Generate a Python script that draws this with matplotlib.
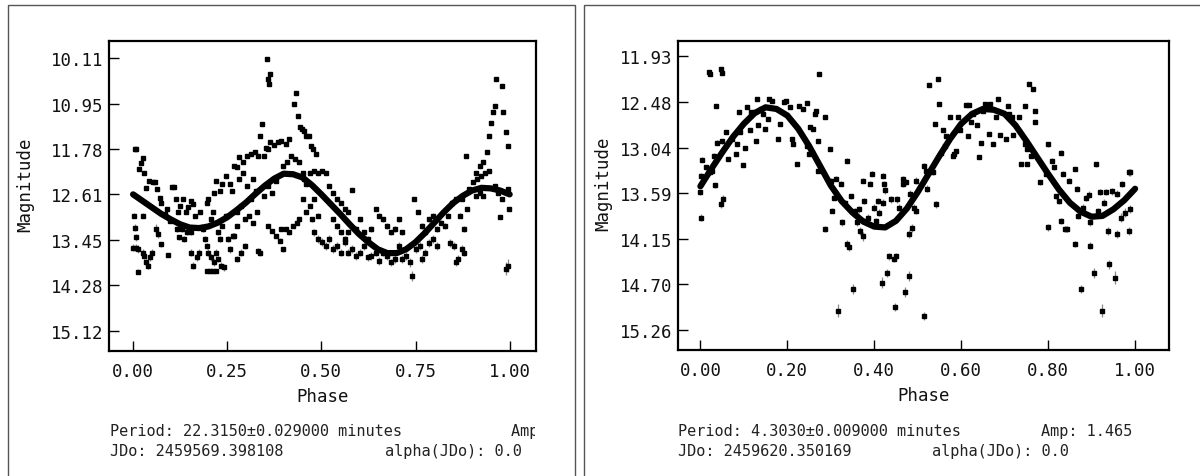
import numpy as np
import matplotlib
matplotlib.use("Agg")
import matplotlib.pyplot as plt
from matplotlib.patches import Rectangle

W, H = 1200, 477
MONO = "DejaVu Sans Mono"

fit_phase = [0.000, 0.025, 0.050, 0.075, 0.100, 0.125, 0.150, 0.175, 0.200, 0.225,
             0.250, 0.275, 0.300, 0.325, 0.350, 0.375, 0.400, 0.425, 0.450, 0.475,
             0.500, 0.525, 0.550, 0.575, 0.600, 0.625, 0.650, 0.675, 0.700, 0.725,
             0.750, 0.775, 0.800, 0.825, 0.850, 0.875, 0.900, 0.925, 0.950, 0.975, 1.000]

# ---------------- left object ----------------
left_fit_mag = [12.61, 12.73, 12.85, 12.97, 13.07, 13.16, 13.22, 13.23, 13.20, 13.13,
                13.03, 12.90, 12.76, 12.60, 12.45, 12.32, 12.23, 12.24, 12.30, 12.44,
                12.61, 12.79, 12.97, 13.16, 13.34, 13.49, 13.62, 13.69, 13.69, 13.62,
                13.49, 13.32, 13.13, 12.94, 12.77, 12.64, 12.54, 12.49, 12.50, 12.54, 12.61]

# (phase, magnitude, error)
left_obs = [
    (0.005, 11.77, 0.02), (0.009, 11.77, 0.02), (0.015, 12.15, 0.02), (0.020, 12.03, 0.02),
    (0.025, 11.94, 0.02), (0.028, 12.21, 0.02), (0.002, 13.00, 0.05), (0.004, 13.22, 0.06),
    (0.009, 13.40, 0.07), (0.000, 13.59, 0.07), (0.007, 13.59, 0.07), (0.014, 13.62, 0.07),
    (0.012, 14.03, 0.05), (0.025, 13.68, 0.06), (0.030, 13.74, 0.06), (0.035, 13.86, 0.06),
    (0.040, 13.92, 0.06), (0.045, 13.77, 0.06), (0.050, 13.68, 0.06), (0.025, 13.00, 0.04),
    (0.033, 12.50, 0.02), (0.043, 12.36, 0.02), (0.053, 12.39, 0.02), (0.058, 12.38, 0.02),
    (0.063, 12.51, 0.02), (0.071, 12.67, 0.02), (0.075, 12.76, 0.02), (0.061, 13.24, 0.08),
    (0.067, 13.34, 0.08), (0.073, 13.53, 0.05), (0.094, 13.73, 0.04), (0.084, 12.97, 0.03),
    (0.089, 12.88, 0.03), (0.099, 13.10, 0.03), (0.104, 12.47, 0.02), (0.109, 12.47, 0.02),
    (0.114, 12.70, 0.02), (0.119, 12.94, 0.03), (0.124, 12.82, 0.03), (0.116, 13.25, 0.05),
    (0.122, 13.40, 0.05), (0.129, 13.25, 0.05), (0.134, 13.43, 0.05), (0.143, 13.31, 0.05),
    (0.132, 12.70, 0.03), (0.140, 12.94, 0.03), (0.145, 12.85, 0.03), (0.153, 12.73, 0.03),
    (0.160, 12.79, 0.03), (0.155, 13.68, 0.06), (0.160, 13.92, 0.06), (0.170, 13.77, 0.06),
    (0.175, 13.68, 0.06), (0.155, 13.31, 0.05), (0.165, 13.00, 0.03), (0.177, 12.94, 0.03),
    (0.185, 13.25, 0.05), (0.190, 13.43, 0.05), (0.196, 12.76, 0.03), (0.200, 12.70, 0.03),
    (0.206, 13.07, 0.04), (0.211, 12.94, 0.03), (0.216, 12.58, 0.02), (0.221, 12.36, 0.02),
    (0.196, 14.02, 0.03), (0.204, 14.02, 0.03), (0.211, 14.02, 0.03), (0.221, 14.02, 0.03),
    (0.196, 13.56, 0.06), (0.200, 13.68, 0.06), (0.206, 13.77, 0.06), (0.216, 13.86, 0.06),
    (0.221, 13.68, 0.06), (0.226, 13.80, 0.06), (0.234, 13.92, 0.06), (0.241, 13.95, 0.06),
    (0.226, 13.31, 0.05), (0.231, 13.43, 0.05), (0.236, 13.19, 0.04), (0.246, 13.00, 0.04),
    (0.252, 13.43, 0.05), (0.231, 12.55, 0.02), (0.236, 12.42, 0.02), (0.246, 12.27, 0.02),
    (0.257, 12.42, 0.02), (0.262, 12.54, 0.02), (0.269, 12.08, 0.02), (0.277, 12.11, 0.02),
    (0.257, 13.62, 0.06), (0.267, 13.37, 0.05), (0.277, 13.80, 0.06), (0.287, 13.68, 0.06),
    (0.297, 13.56, 0.06), (0.282, 11.93, 0.02), (0.292, 12.02, 0.02), (0.302, 11.90, 0.02),
    (0.313, 11.87, 0.02), (0.323, 11.84, 0.02), (0.333, 11.90, 0.02), (0.282, 12.33, 0.02),
    (0.292, 12.21, 0.02), (0.302, 12.45, 0.02), (0.313, 12.70, 0.02), (0.318, 12.33, 0.02),
    (0.326, 12.54, 0.02), (0.277, 12.94, 0.03), (0.287, 12.82, 0.03), (0.297, 13.07, 0.03),
    (0.308, 13.00, 0.03), (0.318, 13.13, 0.03), (0.328, 12.94, 0.03), (0.265, 13.37, 0.05),
    (0.277, 13.19, 0.04), (0.333, 13.65, 0.06), (0.338, 13.68, 0.06), (0.338, 11.53, 0.02),
    (0.343, 11.32, 0.02), (0.348, 11.90, 0.02), (0.353, 11.75, 0.02), (0.358, 11.78, 0.02),
    (0.355, 10.12, 0.02), (0.358, 10.49, 0.02), (0.363, 10.40, 0.02), (0.361, 10.58, 0.02),
    (0.358, 13.19, 0.04), (0.369, 13.28, 0.04), (0.379, 13.37, 0.04), (0.389, 13.46, 0.05),
    (0.399, 13.62, 0.05), (0.364, 11.65, 0.02), (0.374, 11.71, 0.02), (0.384, 11.65, 0.02),
    (0.394, 11.62, 0.02), (0.405, 11.68, 0.02), (0.415, 11.59, 0.02), (0.358, 12.45, 0.02),
    (0.369, 12.58, 0.02), (0.379, 12.36, 0.02), (0.348, 12.64, 0.02), (0.394, 13.25, 0.04),
    (0.405, 13.25, 0.04), (0.415, 13.31, 0.04), (0.425, 13.19, 0.04), (0.435, 13.13, 0.04),
    (0.440, 13.07, 0.04), (0.399, 12.08, 0.02), (0.409, 12.02, 0.02), (0.420, 11.90, 0.02),
    (0.430, 11.96, 0.02), (0.440, 12.02, 0.02), (0.428, 10.95, 0.02), (0.432, 10.74, 0.02),
    (0.438, 11.16, 0.02), (0.442, 11.38, 0.02), (0.448, 11.41, 0.02), (0.455, 11.44, 0.02),
    (0.460, 11.53, 0.02), (0.468, 11.53, 0.02), (0.472, 11.72, 0.02), (0.479, 11.78, 0.02),
    (0.486, 11.87, 0.02), (0.450, 12.21, 0.02), (0.455, 12.33, 0.02), (0.460, 12.42, 0.02),
    (0.470, 12.21, 0.02), (0.481, 12.18, 0.02), (0.491, 12.21, 0.02), (0.501, 12.18, 0.02),
    (0.511, 12.21, 0.02), (0.450, 12.70, 0.03), (0.460, 12.94, 0.03), (0.470, 12.82, 0.03),
    (0.476, 13.07, 0.04), (0.481, 12.70, 0.03), (0.491, 13.00, 0.04), (0.481, 13.31, 0.06),
    (0.491, 13.43, 0.07), (0.501, 13.49, 0.07), (0.511, 13.56, 0.07), (0.521, 13.43, 0.07),
    (0.521, 12.45, 0.02), (0.532, 12.58, 0.02), (0.542, 12.70, 0.03), (0.552, 12.76, 0.03),
    (0.562, 12.88, 0.03), (0.572, 12.94, 0.03), (0.532, 13.07, 0.05), (0.542, 13.19, 0.05),
    (0.552, 13.31, 0.05), (0.562, 13.43, 0.06), (0.572, 13.31, 0.05), (0.582, 12.53, 0.02),
    (0.532, 13.62, 0.07), (0.542, 13.56, 0.07), (0.552, 13.68, 0.07), (0.562, 13.49, 0.07),
    (0.572, 13.68, 0.07), (0.582, 13.62, 0.07), (0.593, 13.74, 0.07), (0.603, 13.68, 0.07),
    (0.613, 13.56, 0.07), (0.593, 13.25, 0.05), (0.603, 13.07, 0.05), (0.613, 13.31, 0.05),
    (0.623, 13.43, 0.06), (0.633, 13.25, 0.05), (0.644, 12.88, 0.04), (0.654, 13.00, 0.04),
    (0.623, 13.77, 0.07), (0.633, 13.74, 0.07), (0.644, 13.68, 0.07), (0.654, 13.83, 0.07),
    (0.664, 13.68, 0.07), (0.674, 13.74, 0.07), (0.684, 13.86, 0.07), (0.695, 13.80, 0.07),
    (0.664, 13.07, 0.05), (0.674, 13.19, 0.05), (0.684, 13.31, 0.05), (0.695, 13.25, 0.05),
    (0.705, 13.07, 0.05), (0.715, 13.31, 0.05), (0.705, 13.56, 0.07), (0.715, 13.80, 0.07),
    (0.725, 13.74, 0.07), (0.735, 13.86, 0.08), (0.740, 14.11, 0.10), (0.745, 12.70, 0.04),
    (0.756, 12.94, 0.04), (0.766, 13.19, 0.05), (0.776, 13.31, 0.05), (0.786, 13.07, 0.05),
    (0.796, 13.00, 0.05), (0.750, 13.62, 0.07), (0.761, 13.56, 0.07), (0.766, 13.80, 0.07),
    (0.776, 13.68, 0.07), (0.786, 13.50, 0.07), (0.796, 13.43, 0.07), (0.807, 13.56, 0.07),
    (0.807, 13.25, 0.05), (0.817, 13.13, 0.05), (0.827, 13.19, 0.05), (0.837, 13.00, 0.05),
    (0.847, 12.76, 0.04), (0.857, 12.70, 0.04), (0.842, 13.50, 0.07), (0.852, 13.56, 0.07),
    (0.857, 13.86, 0.07), (0.862, 13.80, 0.07), (0.873, 13.62, 0.07), (0.878, 13.68, 0.07),
    (0.868, 13.00, 0.05), (0.878, 13.25, 0.05), (0.883, 11.90, 0.03), (0.888, 12.88, 0.04),
    (0.873, 12.70, 0.04), (0.893, 12.52, 0.03), (0.904, 12.39, 0.03), (0.914, 12.33, 0.03),
    (0.924, 12.27, 0.03), (0.934, 12.21, 0.03), (0.944, 12.18, 0.03), (0.910, 12.21, 0.03),
    (0.920, 12.08, 0.03), (0.930, 12.02, 0.03), (0.940, 11.84, 0.03), (0.945, 11.53, 0.03),
    (0.950, 11.29, 0.03), (0.955, 11.10, 0.03), (0.960, 10.98, 0.03), (0.965, 10.49, 0.03),
    (0.981, 10.62, 0.03), (0.983, 11.10, 0.03), (0.991, 11.47, 0.03), (0.996, 11.72, 0.03),
    (0.960, 12.45, 0.03), (0.970, 12.58, 0.03), (0.975, 13.03, 0.04), (0.980, 12.70, 0.04),
    (0.996, 12.51, 0.04), (0.998, 12.88, 0.04), (0.991, 13.98, 0.12), (0.996, 13.92, 0.12),
    (0.910, 12.64, 0.03), (0.920, 12.58, 0.03), (0.930, 12.64, 0.03),
]
left_yticks = [10.11, 10.95, 11.78, 12.61, 13.45, 14.28, 15.12]
left_xticks = [0.00, 0.25, 0.50, 0.75, 1.00]
left_info = {
    "period": "Period: 22.3150\u00b10.029000 minutes",
    "amp": "Amp: ",
    "jdo": "JDo: 2459569.398108",
    "alpha": "alpha(JDo): 0.0",
}

# ---------------- right object ----------------
right_fit_mag = [13.51, 13.30, 13.10, 12.91, 12.75, 12.62, 12.55, 12.57, 12.65, 12.81,
                 13.02, 13.26, 13.50, 13.69, 13.83, 13.94, 14.00, 14.01, 13.93, 13.78,
                 13.58, 13.36, 13.14, 12.93, 12.75, 12.63, 12.57, 12.58, 12.63, 12.77,
                 12.96, 13.16, 13.36, 13.55, 13.71, 13.82, 13.88, 13.87, 13.79, 13.68, 13.54]

right_obs = [
    (0.019, 12.12, 0.02), (0.023, 12.15, 0.02), (0.048, 12.08, 0.02), (0.049, 12.13, 0.02),
    (0.035, 12.53, 0.02), (0.002, 13.38, 0.03), (0.000, 13.58, 0.03), (0.002, 13.89, 0.04),
    (0.004, 13.19, 0.03), (0.014, 13.28, 0.03), (0.023, 13.34, 0.03), (0.026, 13.32, 0.03),
    (0.032, 13.14, 0.03), (0.033, 13.50, 0.03), (0.038, 12.98, 0.03), (0.049, 12.96, 0.03),
    (0.048, 13.73, 0.04), (0.053, 13.66, 0.04), (0.060, 12.85, 0.02), (0.064, 13.18, 0.02),
    (0.073, 12.94, 0.02), (0.082, 13.12, 0.02), (0.085, 13.00, 0.02), (0.088, 12.61, 0.02),
    (0.091, 12.85, 0.02), (0.097, 13.25, 0.02), (0.102, 13.04, 0.02), (0.108, 12.55, 0.02),
    (0.115, 12.82, 0.02), (0.117, 12.61, 0.02), (0.126, 12.61, 0.02), (0.129, 12.96, 0.02),
    (0.132, 12.77, 0.02), (0.130, 12.45, 0.02), (0.139, 12.57, 0.02), (0.144, 12.63, 0.02),
    (0.148, 12.81, 0.02), (0.155, 12.69, 0.02), (0.157, 12.45, 0.02), (0.164, 12.47, 0.02),
    (0.179, 12.94, 0.02), (0.183, 12.75, 0.02), (0.192, 12.49, 0.02), (0.196, 12.47, 0.02),
    (0.205, 12.55, 0.02), (0.210, 12.94, 0.02), (0.214, 13.00, 0.02), (0.223, 13.24, 0.02),
    (0.227, 12.53, 0.02), (0.236, 12.57, 0.02), (0.245, 12.50, 0.02), (0.252, 12.79, 0.02),
    (0.258, 12.81, 0.02), (0.263, 12.63, 0.02), (0.267, 12.59, 0.02), (0.271, 12.96, 0.02),
    (0.287, 12.67, 0.02), (0.273, 12.15, 0.02), (0.245, 13.02, 0.02), (0.249, 13.12, 0.02),
    (0.271, 13.32, 0.02), (0.287, 14.03, 0.04), (0.298, 13.06, 0.02), (0.300, 13.44, 0.03),
    (0.302, 13.81, 0.03), (0.307, 13.65, 0.03), (0.311, 13.42, 0.03), (0.317, 15.02, 0.08),
    (0.324, 13.48, 0.03), (0.326, 13.95, 0.04), (0.333, 13.71, 0.03), (0.337, 13.20, 0.03),
    (0.337, 14.21, 0.05), (0.342, 14.25, 0.05), (0.346, 13.63, 0.03), (0.350, 14.76, 0.06),
    (0.355, 13.81, 0.03), (0.361, 13.95, 0.04), (0.364, 13.79, 0.04), (0.368, 14.05, 0.05),
    (0.373, 13.44, 0.03), (0.373, 14.12, 0.06), (0.377, 13.69, 0.04), (0.377, 13.93, 0.04),
    (0.386, 13.89, 0.04), (0.390, 13.48, 0.03), (0.394, 13.36, 0.03), (0.399, 13.77, 0.04),
    (0.403, 13.93, 0.04), (0.408, 13.69, 0.04), (0.411, 13.83, 0.04), (0.417, 14.68, 0.07),
    (0.421, 13.38, 0.03), (0.423, 13.48, 0.03), (0.421, 13.71, 0.04), (0.425, 13.56, 0.04),
    (0.429, 14.56, 0.05), (0.434, 14.36, 0.04), (0.438, 13.67, 0.04), (0.445, 14.39, 0.04),
    (0.449, 14.36, 0.04), (0.452, 13.67, 0.04), (0.456, 13.77, 0.04), (0.465, 13.42, 0.04),
    (0.467, 13.48, 0.04), (0.474, 13.46, 0.04), (0.479, 14.09, 0.05), (0.481, 14.60, 0.06),
    (0.487, 14.02, 0.05), (0.491, 13.77, 0.04), (0.496, 13.81, 0.04), (0.447, 14.98, 0.05),
    (0.470, 14.80, 0.06), (0.514, 15.09, 0.05), (0.483, 13.60, 0.04), (0.496, 13.44, 0.04),
    (0.514, 13.26, 0.03), (0.518, 13.32, 0.03), (0.522, 13.54, 0.04), (0.527, 12.28, 0.02),
    (0.535, 13.34, 0.03), (0.540, 12.75, 0.02), (0.543, 13.73, 0.04), (0.546, 12.21, 0.02),
    (0.549, 12.51, 0.02), (0.553, 13.10, 0.02), (0.559, 12.83, 0.02), (0.562, 13.02, 0.02),
    (0.566, 12.90, 0.02), (0.575, 12.67, 0.02), (0.580, 13.14, 0.02), (0.584, 13.12, 0.02),
    (0.589, 13.08, 0.02), (0.593, 12.67, 0.02), (0.597, 12.83, 0.02), (0.610, 12.52, 0.02),
    (0.615, 12.90, 0.02), (0.619, 12.52, 0.02), (0.623, 12.73, 0.02), (0.628, 12.63, 0.02),
    (0.637, 12.77, 0.02), (0.641, 13.16, 0.02), (0.646, 12.98, 0.02), (0.650, 12.59, 0.02),
    (0.654, 12.51, 0.02), (0.663, 12.87, 0.02), (0.667, 12.51, 0.02), (0.674, 13.00, 0.02),
    (0.680, 12.67, 0.02), (0.685, 12.45, 0.02), (0.689, 12.89, 0.02), (0.703, 12.94, 0.02),
    (0.707, 12.53, 0.02), (0.711, 12.63, 0.02), (0.716, 12.67, 0.02), (0.720, 12.89, 0.02),
    (0.733, 12.67, 0.02), (0.738, 13.24, 0.02), (0.747, 12.53, 0.02), (0.751, 13.24, 0.02),
    (0.756, 12.27, 0.02), (0.765, 12.33, 0.02), (0.769, 12.59, 0.02), (0.769, 12.73, 0.02),
    (0.747, 13.00, 0.02), (0.751, 13.06, 0.02), (0.760, 13.14, 0.02), (0.782, 13.46, 0.03),
    (0.795, 13.36, 0.03), (0.800, 14.01, 0.04), (0.800, 13.00, 0.03), (0.808, 13.20, 0.03),
    (0.813, 13.28, 0.03), (0.817, 13.63, 0.03), (0.826, 13.69, 0.03), (0.830, 13.10, 0.03),
    (0.830, 13.93, 0.04), (0.834, 13.36, 0.03), (0.839, 14.03, 0.04), (0.843, 14.03, 0.04),
    (0.848, 13.44, 0.03), (0.862, 13.30, 0.03), (0.862, 14.21, 0.04), (0.866, 13.54, 0.03),
    (0.869, 13.87, 0.04), (0.875, 14.76, 0.05), (0.880, 13.77, 0.04), (0.888, 13.65, 0.04),
    (0.893, 13.61, 0.04), (0.897, 14.23, 0.04), (0.897, 13.95, 0.04), (0.906, 14.56, 0.06),
    (0.910, 13.24, 0.03), (0.915, 13.81, 0.04), (0.919, 13.58, 0.04), (0.923, 15.02, 0.08),
    (0.928, 13.71, 0.04), (0.932, 13.58, 0.04), (0.937, 14.05, 0.05), (0.941, 14.46, 0.05),
    (0.946, 13.57, 0.04), (0.954, 14.62, 0.08), (0.959, 13.60, 0.04), (0.959, 14.09, 0.05),
    (0.968, 13.89, 0.05), (0.971, 13.48, 0.04), (0.976, 13.83, 0.05), (0.985, 13.34, 0.04),
    (0.989, 13.34, 0.04), (0.985, 14.05, 0.05), (0.989, 13.79, 0.05),
]
right_yticks = [11.93, 12.48, 13.04, 13.59, 14.15, 14.70, 15.26]
right_xticks = [0.00, 0.20, 0.40, 0.60, 0.80, 1.00]
right_info = {
    "period": "Period: 4.3030\u00b10.009000 minutes",
    "amp": "Amp: 1.465",
    "jdo": "JDo: 2459620.350169",
    "alpha": "alpha(JDo): 0.0",
}

fig = plt.figure(figsize=(W / 100, H / 100), dpi=100)
fig.patch.set_facecolor("white")


def fx(px):
    return px / W


def fy(py):
    return 1 - py / H


# panel frames (grey boxes, open at the bottom of the picture)
for x0, x1 in [(8, 575), (584, 1260)]:
    fig.add_artist(Rectangle((fx(x0), fy(H + 20)), fx(x1 - x0), fy(6) - fy(H + 20),
                             transform=fig.transFigure, fill=False,
                             edgecolor="#555555", lw=1.0))


def panel(rect, obs, fit_m, xticks, yticks, xlim, ylim, ylab_x, info, pos):
    ax = fig.add_axes(rect)
    ph = np.array([o[0] for o in obs])
    mg = np.array([o[1] for o in obs])
    er = np.array([o[2] for o in obs])
    ax.errorbar(ph, mg, yerr=er, fmt="s", ms=2.2, color="black", mec="black",
                ecolor="#8a8a8a", elinewidth=0.9, capsize=0, zorder=3)
    ax.plot(fit_phase, fit_m, color="black", lw=4.5, solid_capstyle="round",
            solid_joinstyle="round", zorder=4)
    ax.set_xlim(*xlim)
    ax.set_ylim(*ylim)
    ax.set_xticks(xticks)
    ax.set_xticklabels(["%.2f" % t for t in xticks])
    ax.set_yticks(yticks)
    ax.set_yticklabels(["%.2f" % t for t in yticks])
    ax.tick_params(direction="in", length=7, width=1.0, color="black",
                   labelsize=12.5, labelcolor="#111111")
    ax.tick_params(axis="x", pad=8)
    ax.tick_params(axis="y", pad=4)
    for lab in ax.get_xticklabels() + ax.get_yticklabels():
        lab.set_family(MONO)
    for s in ax.spines.values():
        s.set_linewidth(1.6)
    ax.text(0.5, -0.145, "Phase", transform=ax.transAxes, ha="center", va="center",
            fontsize=12.5, family=MONO, color="#111111")
    ax.text(ylab_x, 0.54, "Magnitude", transform=ax.transAxes, ha="center", va="center",
            rotation=90, fontsize=12.5, family=MONO, color="#111111")

    px_period, px_amp, px_alpha, clip_right = pos
    kw = dict(ha="left", va="center", fontsize=11, family=MONO, color="#222222")
    fig.text(fx(px_period), fy(432), info["period"], **kw)
    t_amp = fig.text(fx(px_amp), fy(432), info["amp"], **kw)
    fig.text(fx(px_period), fy(452), info["jdo"], **kw)
    t_alpha = fig.text(fx(px_alpha), fy(452), info["alpha"], **kw)
    clip = Rectangle((0, 0), fx(clip_right), 1, transform=fig.transFigure)
    t_amp.set_clip_path(clip)
    t_alpha.set_clip_path(clip)
    return ax


panel([fx(109), fy(352), fx(536 - 109), fy(42) - fy(352)],
      left_obs, left_fit_mag, left_xticks, left_yticks,
      (-0.064, 1.07), (15.49, 9.79), -0.197, left_info, (110, 511, 385, 535))

panel([fx(678), fy(351), fx(1169 - 678), fy(42) - fy(351)],
      right_obs, right_fit_mag, right_xticks, right_yticks,
      (-0.0515, 1.078), (15.50, 11.744), -0.153, right_info, (678, 1041, 932, 1200))

fig.savefig("out.png", dpi=100)
